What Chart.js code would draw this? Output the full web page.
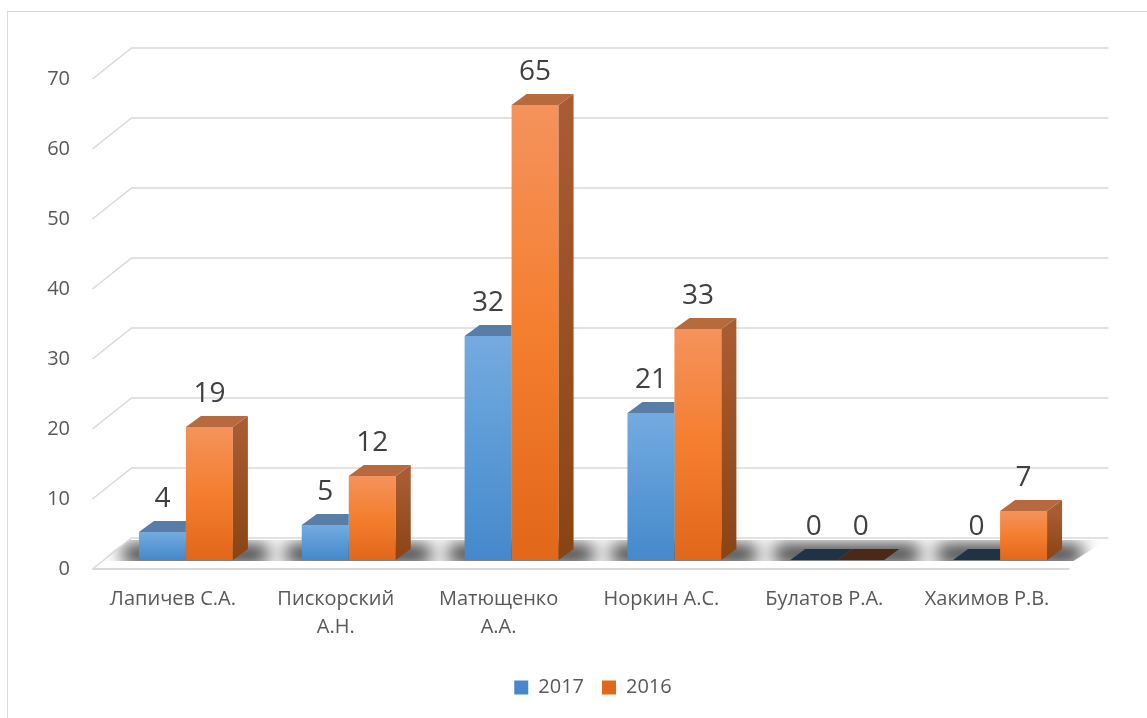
<!DOCTYPE html>
<html>
<head>
<meta charset="utf-8">
<script src="https://cdn.jsdelivr.net/npm/chart.js@4.4.1/dist/chart.umd.min.js"></script>
<style>
  html, body { margin: 0; padding: 0; background: #fff; overflow: hidden; }
  #frame { position: absolute; left: 7px; top: 11px; width: 1300px; height: 900px; border: 1px solid #d9d9d9; }
  #myChart { position: absolute; left: 0; top: 0; }
</style>
</head>
<body>
<div id="frame"></div>
<canvas id="myChart" width="1147" height="718"></canvas>
<script>
const ctx = document.getElementById("myChart").getContext("2d");

// --- Data ---
const names = [
  ["Лапичев С.А."],
  ["Пискорский", "А.Н."],
  ["Матющенко", "А.А."],
  ["Норкин А.С."],
  ["Булатов Р.А."],
  ["Хакимов Р.В."],
];
const values2017 = [4, 5, 32, 21, 0, 0];
const values2016 = [19, 12, 65, 33, 0, 7];
const yTicks = [0, 10, 20, 30, 40, 50, 60, 70];

// --- 3D look ---
// offsets from the bar plane: front edge of floor, back wall, bar depth
const DEPTH = { front: [-12, 9], back: [27, -22], bar: [15, -11] };

const palette = {
  "2017": {
    top: "#74abdf", mid: "#5b9ad6", bottom: "#4688cb",
    cap: "#587ea8", capZero: "#1f3347",
    side: ["#46709c", "#34587f"], legend: "#5b9bd5",
  },
  "2016": {
    top: "#f4935c", mid: "#f47e2f", bottom: "#e1671a",
    cap: "#b66a3e", capZero: "#4b2817",
    side: ["#a85c32", "#8a4414"], legend: "#ed7d31",
  },
};

Chart.defaults.font.family = "'Open Sans', sans-serif";

function frontFill(label) {
  const c = palette[label];
  return (context) => {
    const chart = context.chart;
    if (context.type !== "data" || !chart.chartArea) return c.legend;
    const y = chart.scales.y;
    const top = y.getPixelForValue(context.parsed.y);
    const base = y.getPixelForValue(0);
    if (base - top < 1) return c.legend;
    const g = chart.ctx.createLinearGradient(0, top, 0, base);
    g.addColorStop(0, c.top);
    g.addColorStop(0.5, c.mid);
    g.addColorStop(1, c.bottom);
    return g;
  };
}

function quad(c, pts) {
  c.beginPath();
  c.moveTo(pts[0][0], pts[0][1]);
  for (let i = 1; i < pts.length; i++) c.lineTo(pts[i][0], pts[i][1]);
  c.closePath();
}

const scene3d = {
  id: "scene3d",
  beforeDatasetsDraw(chart) {
    const c = chart.ctx;
    const a = chart.chartArea;
    const y = chart.scales.y;
    const [fx, fy] = DEPTH.front;
    const [bx, by] = DEPTH.back;
    const y0 = y.getPixelForValue(0);
    c.save();

    // floor (no visible right edge)
    quad(c, [[a.left + fx, y0 + fy], [a.right + fx, y0 + fy], [a.right + bx, y0 + by], [a.left + bx, y0 + by]]);
    c.fillStyle = "#fff";
    c.fill();
    c.lineWidth = 2;
    c.strokeStyle = "#d9d9d9";
    c.beginPath();
    c.moveTo(a.left + fx, y0 + fy);
    c.lineTo(a.right + fx, y0 + fy);
    c.stroke();

    // shadows around the bar groups
    c.save();
    quad(c, [[a.left + fx + 4, y0 + 1], [a.right + fx + 4, y0 + 1], [a.right + bx - 2, y0 + by + 2], [a.left + bx - 2, y0 + by + 2]]);
    c.clip();
    c.filter = "blur(9px)";
    c.fillStyle = "rgba(0,0,0,0.85)";
    const m0 = chart.getDatasetMeta(0).data;
    const m1 = chart.getDatasetMeta(1).data;
    m0.forEach((b0, i) => {
      const b1 = m1[i];
      const l = b0.x - b0.width / 2;
      const r = b1.x + b1.width / 2 + DEPTH.bar[0];
      c.fillRect(l - 16, y0 - 15, r - l + 36, 18);
    });
    c.restore();

    // wall gridlines
    c.lineWidth = 1.5;
    c.strokeStyle = "#d9d9d9";
    yTicks.forEach((v) => {
      const yp = y.getPixelForValue(v);
      c.beginPath();
      c.moveTo(a.left + fx, yp + fy);
      c.lineTo(a.left + bx, yp + by);
      c.lineTo(a.right + bx, yp + by);
      c.stroke();
    });
    c.restore();
  },
  afterDatasetDraw(chart, args) {
    const c = chart.ctx;
    const ds = chart.data.datasets[args.index];
    const col = palette[ds.label];
    const [dx, dy] = DEPTH.bar;
    c.save();
    // the first series sits behind the second one: keep its faces out of the second's front faces
    if (args.index === 0) {
      c.beginPath();
      c.rect(0, 0, chart.width, chart.height);
      chart.getDatasetMeta(1).data.forEach((b) => {
        const p = b.getProps(["x", "y", "base", "width"], true);
        c.rect(p.x - p.width / 2, p.y, p.width, p.base - p.y);
      });
      c.clip("evenodd");
    }
    args.meta.data.forEach((bar, i) => {
      const { x, y: top, base, width } = bar.getProps(["x", "y", "base", "width"], true);
      const l = x - width / 2;
      const r = x + width / 2;
      if (base - top > 0.5) {
        const g = c.createLinearGradient(0, top, 0, base);
        g.addColorStop(0, col.side[0]);
        g.addColorStop(1, col.side[1]);
        c.fillStyle = g;
        quad(c, [[r, top], [r + dx, top + dy], [r + dx, base + dy], [r, base]]);
        c.fill();
      }
      c.fillStyle = ds.data[i] === 0 ? col.capZero : col.cap;
      quad(c, [[l, top], [r, top], [r + dx, top + dy], [l + dx, top + dy]]);
      c.fill();
    });
    c.restore();
  },
  afterDatasetsDraw(chart) {
    const c = chart.ctx;
    c.save();
    c.font = "28px 'Open Sans', sans-serif";
    c.fillStyle = "#404040";
    c.textAlign = "center";
    c.textBaseline = "middle";
    chart.data.datasets.forEach((ds, k) => {
      chart.getDatasetMeta(k).data.forEach((bar, i) => {
        c.fillText(String(ds.data[i]), bar.x, bar.y - 33);
      });
    });
    c.restore();
  },
};

const chart = new Chart(ctx, {
  type: "bar",
  data: {
    labels: names,
    datasets: [
      { label: "2017", data: values2017, backgroundColor: frontFill("2017"), borderWidth: 0 },
      { label: "2016", data: values2016, backgroundColor: frontFill("2016"), borderWidth: 0 },
    ],
  },
  options: {
    responsive: false,
    animation: false,
    categoryPercentage: 0.577,
    barPercentage: 1,
    layout: { padding: { top: 70, right: 65.5, bottom: 10.5, left: 0 } },
    scales: {
      x: {
        grid: { display: false, drawTicks: false },
        border: { display: false },
        ticks: {
          color: "#595959",
          font: { size: 20, lineHeight: 1.4 },
          padding: 25.5,
          labelOffset: -13,
          autoSkip: false,
          maxRotation: 0,
        },
        afterFit: (s) => { s.height = 99.5; },
      },
      y: {
        min: 0,
        max: 70,
        grid: { display: false, drawTicks: false },
        border: { display: false },
        ticks: { color: "#595959", font: { size: 20 }, padding: 34.5, labelOffset: 9 },
        afterBuildTicks: (s) => { s.ticks = yTicks.map((v) => ({ value: v })); },
        afterFit: (s) => { s.width = 104.5; },
      },
    },
    plugins: {
      legend: {
        position: "bottom",
        fullSize: false,
        labels: {
          boxWidth: 14,
          boxHeight: 14,
          padding: 18,
          color: "#595959",
          font: { size: 20 },
        },
      },
      tooltip: { enabled: false },
    },
  },
  plugins: [scene3d],
});
</script>
</body>
</html>
